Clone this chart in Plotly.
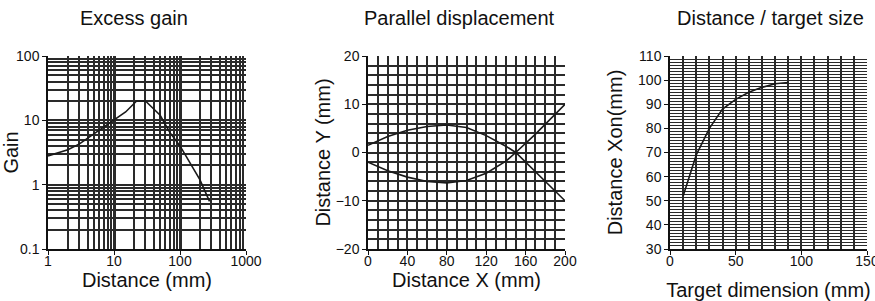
import plotly.graph_objects as go

# Panel 1: Excess gain (log-log)
gain_dist = [1, 1.5, 2, 3, 5, 7, 10, 15, 22, 30, 50, 70, 100, 200, 280]
gain_vals = [2.8, 3.2, 3.5, 4.3, 6.2, 8, 10, 13.5, 20, 20, 12, 6.5, 4, 1.2, 0.55]

# Panel 2: Parallel displacement
disp_x = [0, 20, 40, 60, 80, 100, 120, 140, 150, 170, 200]
disp_a = [1.5, 3.3, 4.6, 5.4, 5.7, 5.2, 3.5, 1.3, 0, -4, -10]
disp_b = [-2, -3.8, -5.1, -6, -6.3, -5.8, -4.3, -1.8, 0, 3.8, 10]

# Panel 3: Distance / target size
target_dim = [10, 15, 20, 30, 40, 50, 60, 70, 80, 90]
dist_xon = [52, 61, 69, 80, 88, 92, 95, 97, 98.5, 99]

# tick labels
p1_xticks = [1, 10, 100, 1000]
p1_yticks = [0.1, 1, 10, 100]
p2_xticks = [0, 40, 80, 120, 160, 200]
p2_yticks = [-20, -10, 0, 10, 20]
p3_xticks = [0, 50, 100, 150]
p3_yticks = [30, 40, 50, 60, 70, 80, 90, 100, 110]

FONT = "Liberation Sans, Arial, sans-serif"
GRID = "#2a2a2a"
W, H = 875, 301

fig = go.Figure()
line = dict(color="#1a1a1a", width=1.6)
fig.add_trace(go.Scatter(x=gain_dist, y=gain_vals, mode="lines", line=line, xaxis="x", yaxis="y"))
fig.add_trace(go.Scatter(x=disp_x, y=disp_a, mode="lines", line=line, xaxis="x2", yaxis="y2"))
fig.add_trace(go.Scatter(x=disp_x, y=disp_b, mode="lines", line=line, xaxis="x2", yaxis="y2"))
fig.add_trace(go.Scatter(x=target_dim, y=dist_xon, mode="lines", line=line, xaxis="x3", yaxis="y3"))

ydom = [1 - 249 / H, 1 - 56 / H]
d1 = [48 / W, 246 / W]
d2 = [368 / W, 565 / W]
d3 = [670 / W, 867 / W]

tickfont = dict(family=FONT, size=14, color="#111")
titlefont = dict(family=FONT, size=20, color="#111")

common = dict(showline=True, linecolor="#111", linewidth=1.5, ticks="outside", ticklen=4,
              tickcolor="#111", tickfont=tickfont, zeroline=False, showgrid=True, automargin=False,
              ticklabeloverflow="allow")
xcommon = dict(ticklabelstandoff=-6, **common)

fig.update_layout(
    width=W, height=H, margin=dict(l=0, r=0, t=0, b=0, autoexpand=False),
    paper_bgcolor="white", plot_bgcolor="white", showlegend=False,
    xaxis=dict(domain=d1, type="log", range=[0, 3], tickmode="array", tickvals=p1_xticks,
               ticktext=[str(v) for v in p1_xticks], gridcolor=GRID, gridwidth=3,
               minor=dict(dtick="D1", showgrid=True, gridcolor=GRID, gridwidth=1.5),
               title=dict(text="Distance (mm)", font=titlefont, standoff=0), anchor="y", **xcommon),
    yaxis=dict(domain=ydom, type="log", range=[-1, 2], tickmode="array", tickvals=p1_yticks,
               ticktext=["0.1", "1", "10", "100"], gridcolor=GRID, gridwidth=2,
               minor=dict(dtick="D1", showgrid=True, gridcolor=GRID, gridwidth=1.5),
               title=dict(text="Gain", font=titlefont, standoff=0), anchor="x", **common),
    xaxis2=dict(domain=d2, range=[0, 200], tickmode="array", tickvals=p2_xticks, gridcolor=GRID,
                gridwidth=1.6, minor=dict(dtick=10, showgrid=True, gridcolor=GRID, gridwidth=1.6),
                title=dict(text="Distance X (mm)", font=titlefont, standoff=0), anchor="y2", **xcommon),
    yaxis2=dict(domain=ydom, range=[-20, 20], tickmode="array", tickvals=p2_yticks, gridcolor=GRID,
                gridwidth=1.6, minor=dict(dtick=2, showgrid=True, gridcolor=GRID, gridwidth=1.6),
                title=dict(text="Distance Y (mm)", font=titlefont, standoff=0), anchor="x2", **common),
    xaxis3=dict(domain=d3, range=[0, 150], tickmode="array", tickvals=p3_xticks, gridcolor=GRID,
                gridwidth=1.6, minor=dict(dtick=10, showgrid=True, gridcolor=GRID, gridwidth=1.6),
                title=dict(text="Target dimension (mm)", font=titlefont, standoff=16), anchor="y3", **xcommon),
    yaxis3=dict(domain=ydom, range=[30, 110], tickmode="array", tickvals=p3_yticks, gridcolor=GRID,
                gridwidth=1.2, minor=dict(dtick=1.25, showgrid=True, gridcolor=GRID, gridwidth=1.2),
                title=dict(text="Distance Xon(mm)", font=titlefont, standoff=10), anchor="x3", **common),
)

titles = ["Excess gain", "Parallel displacement", "Distance / target size"]
centers = [134, 459, 770]
for t, c in zip(titles, centers):
    fig.add_annotation(text=t, x=c / W, y=1 - 18 / H, xref="paper", yref="paper",
                       showarrow=False, font=dict(family=FONT, size=20, color="#111"),
                       xanchor="center", yanchor="middle")

fig.write_html("out.html", config={"displayModeBar": False},
               post_script="document.body.style.margin='0';document.body.style.padding='0';")
